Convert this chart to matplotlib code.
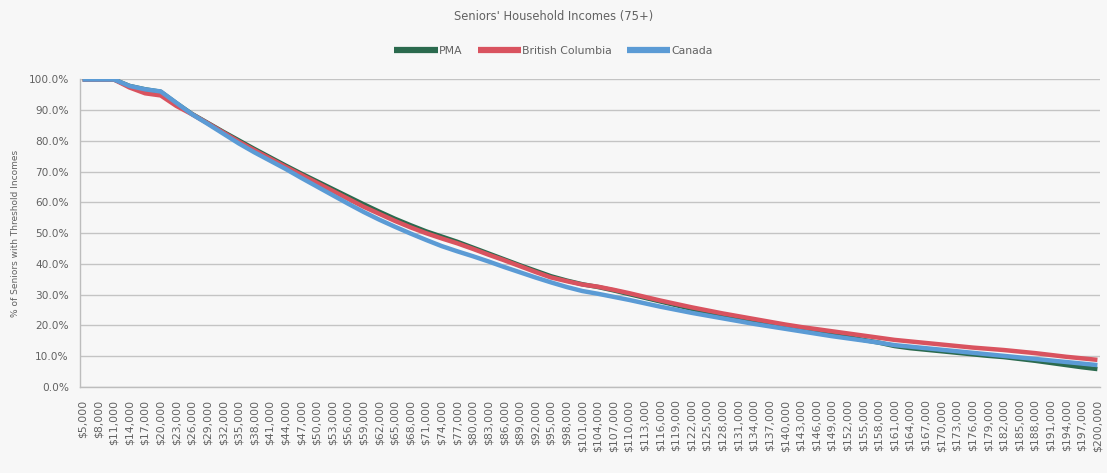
import matplotlib
matplotlib.use("Agg")
import matplotlib.pyplot as plt
from matplotlib.ticker import FuncFormatter, FixedLocator

# Income thresholds (in dollars), one value every $3,000
incomes = list(range(5000, 200001, 3000))

pma = [100, 100, 100, 97.9, 96.8, 96.0, 92.3, 88.8, 85.9, 83.0, 80.2, 77.4,
       74.7, 72.0, 69.4, 66.9, 64.4, 61.9, 59.4, 57.0, 54.7, 52.6, 50.6, 48.9,
       47.2, 45.3, 43.4, 41.5, 39.6, 37.8, 36.0, 34.6, 33.4, 32.5, 31.4, 30.2,
       29.0, 27.8, 26.6, 25.4, 24.2, 23.2, 22.3, 21.4, 20.5, 19.6, 18.8, 18.0,
       17.1, 16.2, 15.3, 14.4, 13.3, 12.6, 12.1, 11.6, 11.1, 10.6, 10.1, 9.7,
       9.1, 8.5, 7.8, 7.1, 6.4, 5.8]

british_columbia = [100, 100, 100, 97.4, 95.5, 94.8, 91.4, 88.7, 85.8, 82.8,
                    79.8, 77.0, 74.3, 71.6, 69.0, 66.4, 63.8, 61.2, 58.6, 56.3,
                    54.0, 51.9, 50.0, 48.3, 46.7, 44.9, 43.0, 41.2, 39.3, 37.4,
                    35.6, 34.4, 33.3, 32.6, 31.6, 30.5, 29.3, 28.1, 27.0, 25.9,
                    24.9, 23.9, 23.0, 22.1, 21.2, 20.3, 19.5, 18.8, 18.1, 17.4,
                    16.7, 16.0, 15.3, 14.8, 14.3, 13.8, 13.3, 12.8, 12.4, 12.0,
                    11.5, 11.0, 10.4, 9.8, 9.3, 8.8]

canada = [100, 100, 100, 97.9, 96.8, 96.1, 92.4, 88.7, 85.6, 82.4, 79.2, 76.3,
          73.6, 70.9, 68.0, 65.2, 62.4, 59.6, 56.9, 54.4, 52.1, 49.9, 47.8,
          45.8, 44.1, 42.5, 40.8, 39.0, 37.3, 35.6, 34.0, 32.5, 31.2, 30.3,
          29.3, 28.3, 27.2, 26.1, 25.1, 24.1, 23.2, 22.3, 21.4, 20.5, 19.7,
          18.9, 18.1, 17.3, 16.5, 15.8, 15.1, 14.4, 13.6, 13.1, 12.6, 12.1,
          11.6, 11.1, 10.6, 10.1, 9.6, 9.1, 8.6, 8.1, 7.6, 7.1]

series_names = ["PMA", "British Columbia", "Canada"]
series_colors = ["#2b6a4e", "#d9535f", "#5b9bd5"]

plt.rcParams["font.family"] = ["DejaVu Sans"]
text_color = "#626262"
bg = "#f7f7f7"

fig = plt.figure(figsize=(11.07, 4.73), dpi=100, facecolor=bg)
ax = fig.add_axes([0.0723, 0.182, 0.9214, 0.650], facecolor=bg)

for values, name, color in zip([pma, british_columbia, canada],
                               series_names, series_colors):
    ax.plot(incomes, values, color=color, lw=3.2, label=name,
            solid_capstyle="butt", solid_joinstyle="round")

ax.set_xlim(4500, 200500)
ax.set_ylim(0, 100)
ax.yaxis.set_major_locator(FixedLocator(range(0, 101, 10)))
ax.yaxis.set_major_formatter(FuncFormatter(lambda v, _: f"{v:.1f}%"))
ax.set_xticks(incomes)
ax.set_xticklabels([f"${v:,}" for v in incomes], rotation=90)

ax.tick_params(axis="x", length=0, pad=9, labelsize=7.8, colors=text_color)
ax.tick_params(axis="y", length=0, pad=8, labelsize=7.6, colors=text_color)
ax.grid(axis="y", color="#c4c4c4", lw=1.0)
ax.set_axisbelow(True)
for side in ("top", "right"):
    ax.spines[side].set_visible(False)
for side in ("left", "bottom"):
    ax.spines[side].set_color("#bdbdbd")
    ax.spines[side].set_linewidth(1.0)

ax.set_ylabel("% of Seniors with Threshold Incomes", fontsize=6.5,
              color=text_color, labelpad=6)

fig.text(0.5, 0.966, "Seniors' Household Incomes (75+)", ha="center",
         va="center", fontsize=8.3, color=text_color)
fig.legend(loc="center", bbox_to_anchor=(0.5, 0.893), ncol=3, frameon=False,
           fontsize=7.8, labelcolor=text_color, handlelength=4.0,
           handletextpad=0.1, columnspacing=1.4)
for line in fig.legends[0].get_lines():
    line.set_linewidth(4.5)

fig.savefig("out.png", dpi=100, facecolor=bg)
